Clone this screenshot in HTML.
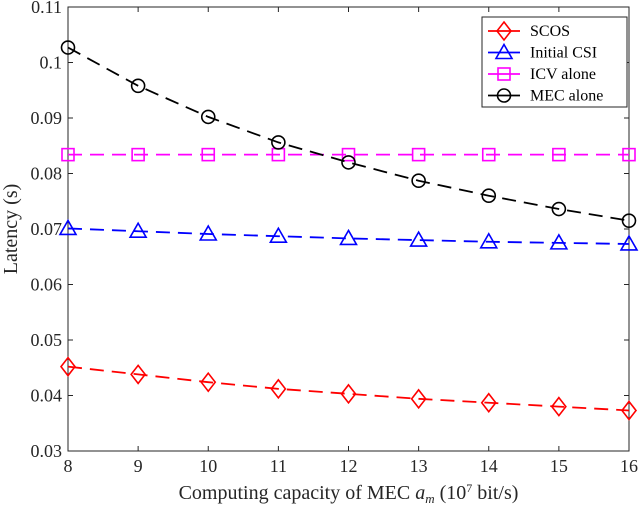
<!DOCTYPE html>
<html><head><meta charset="utf-8"><style>
body{margin:0;background:#fff;}
svg{display:block;font-family:"Liberation Serif",serif;}
</style></head><body>
<svg id="chart" width="640" height="508" viewBox="0 0 640 508" xmlns="http://www.w3.org/2000/svg"></svg>
<script>
const categories=[8,9,10,11,12,13,14,15,16];
const scos=[0.0452,0.0438,0.0424,0.0412,0.0403,0.0394,0.0387,0.0380,0.0373];
const initialCsi=[0.0701,0.0696,0.0691,0.0687,0.0683,0.0680,0.0677,0.0675,0.0673];
const icvAlone=[0.0834,0.0834,0.0834,0.0834,0.0834,0.0834,0.0834,0.0834,0.0834];
const mecAlone=[0.1027,0.0958,0.0902,0.0856,0.0820,0.0787,0.0760,0.0736,0.0715];
const yTicks=[0.03,0.04,0.05,0.06,0.07,0.08,0.09,0.1,0.11];
const yTickLabels=["0.03","0.04","0.05","0.06","0.07","0.08","0.09","0.1","0.11"];
const xTickLabels=["8","9","10","11","12","13","14","15","16"];

const svg=document.getElementById('chart');
const NS='http://www.w3.org/2000/svg';
const L=68,R=629,T=7,B=451;
const xs=v=>L+(v-8)/(16-8)*(R-L);
const ys=v=>B-(v-0.03)/(0.11-0.03)*(B-T);
function mk(tag,attrs,parent){const e=document.createElementNS(NS,tag);for(const k in attrs)e.setAttribute(k,attrs[k]);(parent||svg).appendChild(e);return e;}

const axes=mk('g',{});


const frame=mk('rect',{x:L,y:T,width:R-L,height:B-T,fill:'none',stroke:'#262626','stroke-width':1},axes);


yTicks.forEach((v,i)=>{
  const y=ys(v);
  mk('line',{x1:L,x2:L+5,y1:y,y2:y,stroke:'#262626'},axes);
  mk('line',{x1:R,x2:R-5,y1:y,y2:y,stroke:'#262626'},axes);
  const t=mk('text',{x:L-6,y:y+6,'text-anchor':'end','font-size':18,fill:'#262626'},axes);
  t.textContent=yTickLabels[i];
  
  
});
categories.forEach((c,i)=>{
  const x=xs(c);
  mk('line',{x1:x,x2:x,y1:B,y2:B-5,stroke:'#262626'},axes);
  mk('line',{x1:x,x2:x,y1:T,y2:T+5,stroke:'#262626'},axes);
  const t=mk('text',{x:x,y:B+21,'text-anchor':'middle','font-size':18,fill:'#262626'},axes);
  t.textContent=xTickLabels[i];
  
  
});
const xt=mk('text',{x:(L+R)/2,y:499,'text-anchor':'middle','font-size':20,fill:'#262626'});
xt.innerHTML='Computing capacity of MEC <tspan font-style="italic">a</tspan><tspan font-style="italic" font-size="13" dy="4">m</tspan><tspan dy="-4"> (10</tspan><tspan font-size="12" dy="-7">7</tspan><tspan dy="7"> bit/s)</tspan>';


const yt=mk('text',{x:0,y:0,'text-anchor':'middle','font-size':20,fill:'#262626',transform:`translate(17,${(T+B)/2}) rotate(-90)`});
yt.textContent='Latency (s)';



function marker(g,type,x,y,color){
  const s=7;
  if(type==='diamond')mk('polygon',{points:`${x},${y-s-2} ${x+s},${y} ${x},${y+s+2} ${x-s},${y}`,fill:'none',stroke:color,'stroke-width':1.6},g);
  else if(type==='triangle')mk('polygon',{points:`${x},${y-s-1} ${x+s+1},${y+s-1} ${x-s-1},${y+s-1}`,fill:'none',stroke:color,'stroke-width':1.6},g);
  else if(type==='square')mk('rect',{x:x-6,y:y-6,width:12,height:12,fill:'none',stroke:color,'stroke-width':1.6},g);
  else mk('circle',{cx:x,cy:y,r:6.5,fill:'none',stroke:color,'stroke-width':1.6},g);
}
const series=[
  {name:'scos',label:'SCOS',data:scos,color:'#ff0000',m:'diamond'},
  {name:'initial-csi',label:'Initial CSI',data:initialCsi,color:'#0000ff',m:'triangle'},
  {name:'icv-alone',label:'ICV alone',data:icvAlone,color:'#ff00ff',m:'square'},
  {name:'mec-alone',label:'MEC alone',data:mecAlone,color:'#000000',m:'circle'}
];
series.forEach(s=>{
  const g=mk('g',{});
  
  
  const pts=s.data.map((v,i)=>xs(categories[i])+','+ys(v)).join(' ');
  mk('polyline',{points:pts,fill:'none',stroke:s.color,'stroke-width':1.8,'stroke-dasharray':'14,8'},g);
  s.data.forEach((v,i)=>marker(g,s.m,xs(categories[i]),ys(v),s.color));
});
const lg=mk('g',{});


mk('rect',{x:482,y:17,width:145,height:90,fill:'#fff',stroke:'#262626','stroke-width':1},lg);
series.forEach((s,i)=>{
  const y=31+i*21.5;
  const e=mk('g',{},lg);
  
  
  mk('line',{x1:488,x2:520,y1:y,y2:y,stroke:s.color,'stroke-width':1.8},e);
  marker(e,s.m,504,y,s.color);
  const t=mk('text',{x:530,y:y+5,'font-size':16,fill:'#000'},e);
  t.textContent=s.label;
});
</script>
</body></html>
